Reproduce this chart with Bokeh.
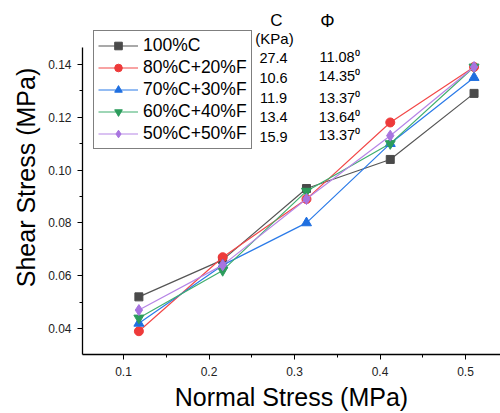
from bokeh.plotting import figure
from bokeh.models import Range1d, FixedTicker, Legend, Label, CustomJSTickFormatter
from bokeh.embed import file_html
from bokeh.resources import INLINE

normal_stress = [0.118, 0.216, 0.314, 0.412, 0.510]
series_names = ["100%C", "80%C+20%F", "70%C+30%F", "60%C+40%F", "50%C+50%F"]
s_100c = [0.052, 0.066, 0.093, 0.104, 0.129]
s_80c = [0.039, 0.067, 0.089, 0.118, 0.139]
s_70c = [0.042, 0.064, 0.080, 0.110, 0.135]
s_60c = [0.044, 0.062, 0.092, 0.110, 0.139]
s_50c = [0.047, 0.064, 0.089, 0.113, 0.139]
cohesion = ["27.4", "10.6", "11.9", "13.4", "15.9"]
phi = ["11.08\u2070", "14.35\u2070", "13.37\u2070", "13.64\u2070", "13.37\u2070"]
x_ticks = [0.1, 0.2, 0.3, 0.4, 0.5]
y_ticks = [0.04, 0.06, 0.08, 0.10, 0.12, 0.14]

FONT = "Liberation Sans"


def xd(px):
    return 0.1 + (px - 123) / 855.0


def yd(py):
    return 0.04 + (329 - py) / 2650.0


p = figure(width=500, height=413, output_backend="svg", toolbar_location=None,
           x_range=Range1d(xd(82), xd(500)), y_range=Range1d(yd(355), yd(0)),
           min_border_left=82, min_border_right=0, min_border_top=0, min_border_bottom=58)
p.grid.visible = False
p.outline_line_color = None
p.background_fill_color = "white"

for ax in (p.xaxis[0], p.yaxis[0]):
    ax.axis_line_color = "black"
    ax.axis_line_width = 1.3
    ax.major_tick_line_color = "black"
    ax.minor_tick_line_color = "black"
    ax.major_tick_in = 0
    ax.major_tick_out = 5
    ax.minor_tick_in = 0
    ax.minor_tick_out = 3
    ax.major_label_text_font = FONT
    ax.major_label_text_font_size = "12px"
    ax.major_label_text_color = "#222222"
    ax.axis_label_text_font = FONT
    ax.axis_label_text_font_size = "25px"
    ax.axis_label_text_font_style = "normal"
    ax.axis_label_text_color = "black"

p.yaxis.bounds = (yd(355), yd(47))
p.xaxis.ticker = FixedTicker(ticks=x_ticks, minor_ticks=[0.05, 0.15, 0.25, 0.35, 0.45, 0.55])
p.yaxis.ticker = FixedTicker(ticks=y_ticks, minor_ticks=[0.05, 0.07, 0.09, 0.11, 0.13])
p.xaxis.formatter = CustomJSTickFormatter(code="return tick.toFixed(1);")
p.yaxis.formatter = CustomJSTickFormatter(code="return tick.toFixed(2);")
p.xaxis.axis_label = "Normal Stress (MPa)"
p.yaxis.axis_label = "Shear Stress (MPa)"
p.xaxis.major_label_standoff = 7
p.xaxis.axis_label_standoff = 4
p.yaxis.major_label_standoff = 6
p.yaxis.axis_label_standoff = 5

series = [s_100c, s_80c, s_70c, s_60c, s_50c]
line_colors = ["#555555", "#f24848", "#2a7ae8", "#3fae6e", "#b685e6"]
marker_colors = ["#4a4a4a", "#ee3a3a", "#1f6fe0", "#2c9c5c", "#a874e0"]
markers = ["square", "circle", "triangle", "inverted_triangle", "diamond"]
sizes = [8, 9, 10, 10, 11]

items = []
for name, ys, lc, mc, mk, sz in zip(series_names, series, line_colors, marker_colors, markers, sizes):
    r1 = p.line(normal_stress, ys, line_color=lc, line_width=1.2)
    r2 = p.scatter(normal_stress, ys, marker=mk, size=sz, fill_color=mc, line_color=mc)
    items.append((name, [r1, r2]))

legend = Legend(items=items, location=(11, 205))
legend.label_text_font = FONT
legend.label_text_font_size = "17.5px"
legend.label_text_color = "black"
legend.glyph_width = 40
legend.glyph_height = 19
legend.label_height = 19
legend.label_standoff = 5
legend.spacing = 1
legend.padding = 4
legend.margin = 0
legend.border_line_color = "black"
legend.border_line_width = 1.5
legend.background_fill_alpha = 1
p.add_layout(legend)

p.add_layout(Label(x=xd(276), y=yd(20), text="C", text_font=FONT, text_font_size="17px",
                   text_align="center", text_baseline="middle", text_color="black"))
p.add_layout(Label(x=xd(274), y=yd(38), text="(KPa)", text_font=FONT, text_font_size="15px",
                   text_align="center", text_baseline="middle", text_color="black"))
p.add_layout(Label(x=xd(327), y=yd(21), text="\u03a6", text_font=FONT, text_font_size="18px",
                   text_align="center", text_baseline="middle", text_color="black"))
c_rows = [58, 78, 98, 117, 137]
phi_rows = [57, 76, 98, 117, 135]
for txt, py in zip(cohesion, c_rows):
    p.add_layout(Label(x=xd(273), y=yd(py), text=txt, text_font=FONT, text_font_size="14.5px",
                       text_align="center", text_baseline="middle", text_color="black"))
for txt, py in zip(phi, phi_rows):
    p.add_layout(Label(x=xd(339), y=yd(py), text=txt, text_font=FONT, text_font_size="14.5px",
                       text_align="center", text_baseline="middle", text_color="black"))

open("out.html", "w").write(file_html(p, INLINE))
